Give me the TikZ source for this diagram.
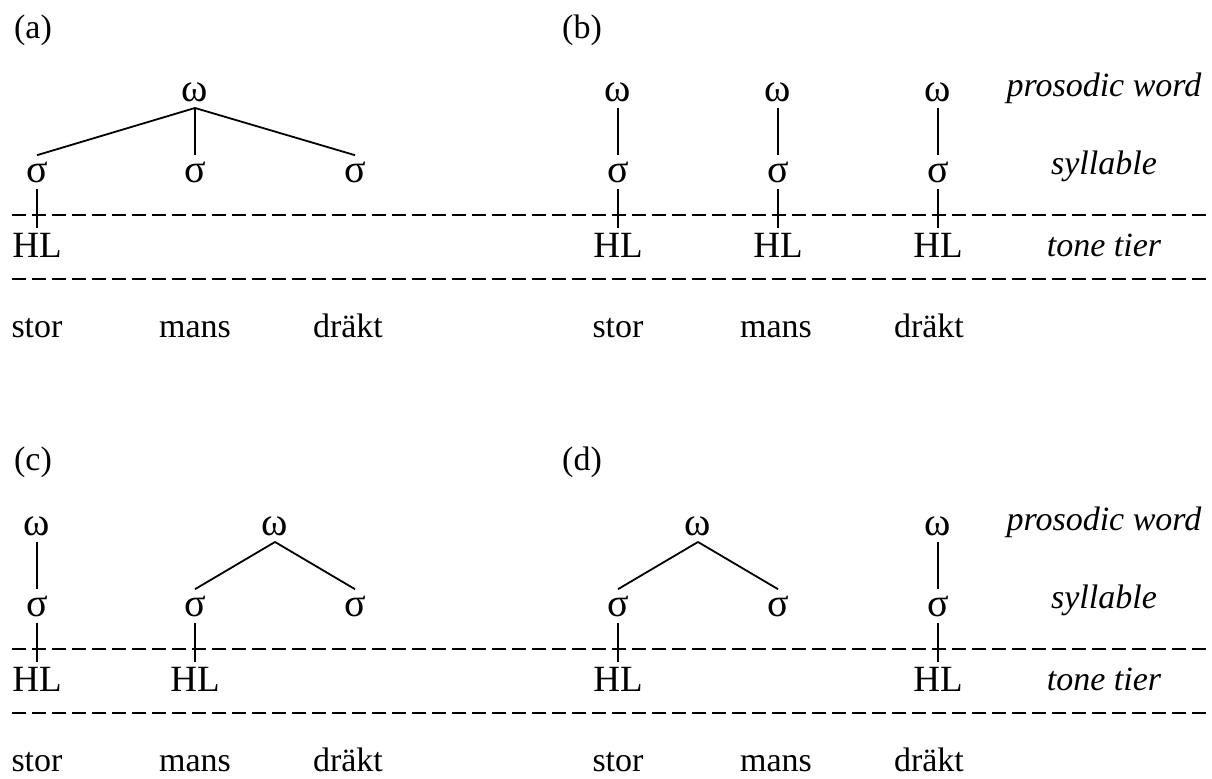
\documentclass[tikz,border=0pt]{standalone}
\usepackage{fontspec}
\setmainfont{Liberation Serif}

\begin{document}
\begin{tikzpicture}[
  x=0.5pt, y=-0.5pt,
  font=\fontsize{17}{20}\selectfont,
  sym/.style={inner sep=3pt, font=\fontsize{20}{24}\selectfont},
  tone/.style={inner sep=2pt, font=\fontsize{18.5}{22}\selectfont},
  wrd/.style={anchor=base, inner sep=0pt},
  tier/.style={anchor=base, inner sep=0pt, font=\fontsize{17}{20}\selectfont\itshape},
  lab/.style={inner sep=0pt},
  br/.style={line width=0.9pt},
  rule/.style={line width=0.9pt, dash pattern=on 7pt off 3pt}
]
\useasboundingbox (0,0) rectangle (1212,778);

% ---------- tiers (top half) ----------
\draw[rule] (12,215) -- (1212,215);
\draw[rule] (12,279) -- (1212,279);
\node[tier] (pwt) at (1104,96)  {prosodic word};
\node[tier] (syt) at (1104,174) {syllable};
\node[tier] (ttt) at (1104,256) {tone tier};

% ---------- (a) one prosodic word ----------
\node[lab] (la) at (33,30) {(a)};
\node[sym] (wa)  at (195,92)  {ω};
\node[sym] (sa1) at (37,172)  {σ};
\node[sym] (sa2) at (195,172) {σ};
\node[sym] (sa3) at (355,172) {σ};
\node[tone] (ha1) at (37,245) {HL};
\draw[br] (wa.south) -- (sa1.north);
\draw[br] (wa.south) -- (sa2.north);
\draw[br] (wa.south) -- (sa3.north);
\draw[br] (sa1.south) -- (ha1.north);
\node[wrd] (ta1) at (37,337)  {stor};
\node[wrd] (ta2) at (195,337) {mans};
\node[wrd] (ta3) at (348,337) {dräkt};

% ---------- (b) three prosodic words ----------
\node[lab] (lb) at (582,30) {(b)};
\node[sym] (wb1) at (618,92)  {ω};
\node[sym] (wb2) at (778,92)  {ω};
\node[sym] (wb3) at (938,92)  {ω};
\node[sym] (sb1) at (618,172) {σ};
\node[sym] (sb2) at (778,172) {σ};
\node[sym] (sb3) at (938,172) {σ};
\node[tone] (hb1) at (618,245) {HL};
\node[tone] (hb2) at (778,245) {HL};
\node[tone] (hb3) at (938,245) {HL};
\draw[br] (wb1) -- (sb1);
\draw[br] (wb2) -- (sb2);
\draw[br] (wb3) -- (sb3);
\draw[br] (sb1) -- (hb1);
\draw[br] (sb2) -- (hb2);
\draw[br] (sb3) -- (hb3);
\node[wrd] (tb1) at (618,337) {stor};
\node[wrd] (tb2) at (776,337) {mans};
\node[wrd] (tb3) at (929,337) {dräkt};

% ---------- tiers (bottom half) ----------
\draw[rule] (12,649) -- (1212,649);
\draw[rule] (12,713) -- (1212,713);
\node[tier] (pwb) at (1104,530) {prosodic word};
\node[tier] (syb) at (1104,608) {syllable};
\node[tier] (ttb) at (1104,690) {tone tier};

% ---------- (c) stor + mansdräkt ----------
\node[lab] (lc) at (33,462) {(c)};
\node[sym] (wc1) at (37,526)  {ω};
\node[sym] (wc2) at (275,526) {ω};
\node[sym] (sc1) at (37,606)  {σ};
\node[sym] (sc2) at (195,606) {σ};
\node[sym] (sc3) at (355,606) {σ};
\node[tone] (hc1) at (37,679)  {HL};
\node[tone] (hc2) at (195,679) {HL};
\draw[br] (wc1) -- (sc1);
\draw[br] (wc2.south) -- (sc2.north);
\draw[br] (wc2.south) -- (sc3.north);
\draw[br] (sc1) -- (hc1);
\draw[br] (sc2) -- (hc2);
\node[wrd] (tc1) at (37,771)  {stor};
\node[wrd] (tc2) at (195,771) {mans};
\node[wrd] (tc3) at (348,771) {dräkt};

% ---------- (d) storman + dräkt ----------
\node[lab] (ld) at (582,462) {(d)};
\node[sym] (wd1) at (698,526) {ω};
\node[sym] (wd2) at (938,526) {ω};
\node[sym] (sd1) at (618,606) {σ};
\node[sym] (sd2) at (778,606) {σ};
\node[sym] (sd3) at (938,606) {σ};
\node[tone] (hd1) at (618,679) {HL};
\node[tone] (hd3) at (938,679) {HL};
\draw[br] (wd1.south) -- (sd1.north);
\draw[br] (wd1.south) -- (sd2.north);
\draw[br] (wd2) -- (sd3);
\draw[br] (sd1) -- (hd1);
\draw[br] (sd3) -- (hd3);
\node[wrd] (td1) at (618,771) {stor};
\node[wrd] (td2) at (776,771) {mans};
\node[wrd] (td3) at (929,771) {dräkt};

\end{tikzpicture}
\end{document}
